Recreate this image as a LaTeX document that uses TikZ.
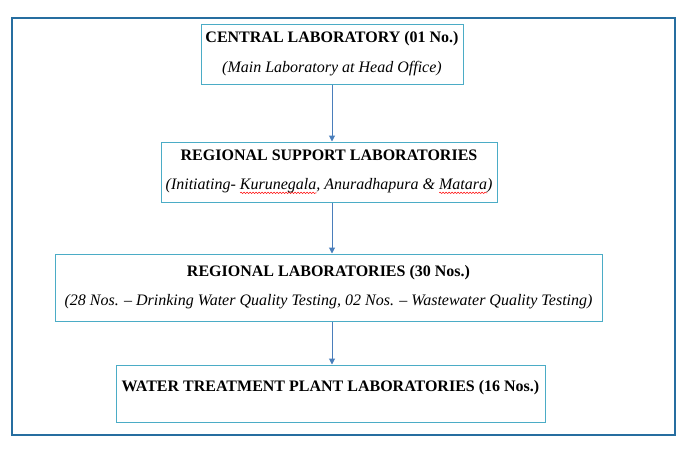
\documentclass[tikz,border=0pt]{standalone}
\usepackage{fontspec}
\setmainfont{Liberation Serif}
\usepackage{tikz}
\usetikzlibrary{arrows.meta,positioning,calc,decorations.pathmorphing}
\definecolor{framecol}{RGB}{38,110,160}
\definecolor{boxcol}{RGB}{75,172,198}
\definecolor{arrcol}{RGB}{74,126,187}
\newlength{\errwd}
\newcommand{\spellerr}[1]{\settowidth{\errwd}{#1}\makebox[0pt][l]{\raisebox{-4pt}{\tikz\draw[red, line width=.5pt, decorate, decoration={snake, amplitude=.7pt, segment length=3pt}] (0pt,0pt) -- (\errwd,0pt);}}#1}

\begin{document}
\begin{tikzpicture}[x=1pt, y=-1pt,
  labbox/.style={draw=boxcol, line width=1pt, align=center, inner sep=0pt,
    font=\fontsize{16}{19}\selectfont},
  flow/.style={draw=arrcol, line width=1pt, -{Triangle[width=6pt,length=6pt]}}]
\useasboundingbox (0,0) rectangle (691,448);
\draw[framecol, line width=1.5pt] (12,18) rectangle (675,435);

\node[labbox, minimum width=262pt, minimum height=60pt] (central) at (332,54)
  {\textbf{CENTRAL LABORATORY (01 No.)}\\[11pt]\textit{(Main Laboratory at Head Office)}};
\node[labbox, minimum width=336pt, minimum height=60pt] (support) at (329,172)
  {\textbf{REGIONAL SUPPORT LABORATORIES}\\[10pt]\textit{(Initiating- \spellerr{Kurunegala}, Anuradhapura \& \spellerr{Matara})}};
\node[labbox, minimum width=547pt, minimum height=67pt] (regional) at (328.5,287.5)
  {\textbf{REGIONAL LABORATORIES (30 Nos.)}\\[10pt]\textit{(28 Nos. – Drinking Water Quality Testing, 02 Nos. – Wastewater Quality Testing)}};
\node[labbox, minimum width=429pt, minimum height=57pt, text depth=15pt] (plant) at (330.5,393.5)
  {\textbf{WATER TREATMENT PLANT LABORATORIES (16 Nos.)}};

% arrows straight down from the central box
\draw[flow] (central.south) -- (central.south |- support.north);
\draw[flow] (central.south |- support.south) -- (central.south |- regional.north);
\draw[flow] (central.south |- regional.south) -- (central.south |- plant.north);
\end{tikzpicture}
\end{document}
